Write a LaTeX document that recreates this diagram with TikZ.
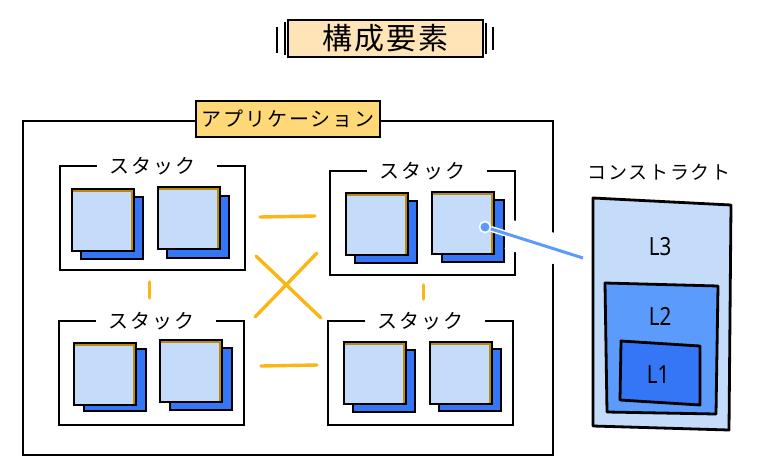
\documentclass[tikz,border=0pt]{standalone}
\usepackage{fontspec}
\newfontfamily\jpfont[LetterSpace=9]{Noto Sans CJK JP}
\newfontfamily\titlefont[LetterSpace=7]{Noto Sans CJK JP}
\newfontfamily\layerfont[FakeStretch=0.82]{Noto Sans}
\definecolor{cardlight}{HTML}{C5DBFA}
\definecolor{cardmid}{HTML}{5B9BFB}
\definecolor{carddark}{HTML}{3476F6}
\definecolor{amberline}{HTML}{B88A10}
\definecolor{linkorange}{HTML}{FBB615}
\definecolor{titlefill}{HTML}{FFE4B8}
\definecolor{appfill}{HTML}{FFD977}
\tikzset{
	sketch/.style={draw=black,line width=2.4pt,inner sep=0pt,outer sep=0pt,anchor=north west},
	stackframe/.style={sketch,minimum width=185pt,minimum height=104pt},
	stacklabel/.style={fill=white,inner sep=0pt,xshift=4pt,minimum width=120pt,minimum height=24pt,font=\jpfont\fontsize{20}{22}\selectfont},
	backcard/.style={sketch,fill=carddark,line width=2.8pt,minimum width=62pt,minimum height=62pt},
	frontcard/.style={sketch,fill=cardlight,line width=2.8pt,minimum width=62pt,minimum height=62pt,
		path picture={\draw[amberline,line width=5.4pt] (path picture bounding box.north west) -- (path picture bounding box.north east) -- (path picture bounding box.south east);}},
	layer/.style={draw=black,line width=2.8pt,line join=round},
	layertext/.style={font=\layerfont\fontsize{25}{28}\selectfont},
	link/.style={linkorange,line width=3.4pt,line cap=round},
}
\begin{document}
\begin{tikzpicture}[x=1pt,y=-1pt]
	\useasboundingbox (0,0) rectangle (758,469);
	% title
	\node[sketch,fill=titlefill,line width=2.8pt,minimum width=195pt,minimum height=37pt,font=\titlefont\fontsize{30}{32}\selectfont] (title) at (288,20) {構成要素};
	\draw[line width=1.8pt] ([shift={(-11,7)}]title.north west) -- ([shift={(-11,-4)}]title.south west);
	\draw[line width=1.8pt] ([shift={(-3,2)}]title.north west) -- ([shift={(-3,-2)}]title.south west);
	\draw[line width=1.8pt] ([shift={(3,3)}]title.north east) -- ([shift={(3,-3)}]title.south east);
	\draw[line width=1.8pt] ([shift={(10,7)}]title.north east) -- ([shift={(10,-7)}]title.south east);
	% application
	\node[sketch,minimum width=530pt,minimum height=334pt] (app) at (23,121) {};
	\node[sketch,fill=appfill,line width=2.8pt,minimum width=184pt,minimum height=36pt,font=\jpfont\fontsize{20}{22}\selectfont] (applabel) at (196,101) {アプリケーション};
	% stacks
	\node[stackframe] (stackA) at (60,166) {};
	\node[stacklabel] (labelA) at (stackA.north) {スタック\kern8pt};
	\node[stackframe] (stackB) at (330,171) {};
	\node[stacklabel] (labelB) at (stackB.north) {スタック\kern8pt};
	\node[stackframe] (stackC) at (59,321) {};
	\node[stacklabel] (labelC) at (stackC.north) {スタック\kern8pt};
	\node[stackframe] (stackD) at (328,321) {};
	\node[stacklabel] (labelD) at (stackD.north) {スタック\kern8pt};
	% cards
	\node[backcard] (backA1) at (81,197) {};
	\node[frontcard] (cardA1) at (72,189) {};
	\node[backcard] (backA2) at (167,196) {};
	\node[frontcard] (cardA2) at (158,187) {};
	\node[backcard] (backB1) at (355,201) {};
	\node[frontcard] (cardB1) at (346,193) {};
	\node[backcard] (backB2) at (442,200) {};
	\node[frontcard] (cardB2) at (432,192) {};
	\node[backcard] (backC1) at (84,349) {};
	\node[frontcard] (cardC1) at (74,343) {};
	\node[backcard] (backC2) at (170,348) {};
	\node[frontcard] (cardC2) at (160,340) {};
	\node[backcard] (backD1) at (353,350) {};
	\node[frontcard] (cardD1) at (344,342) {};
	\node[backcard] (backD2) at (439,349) {};
	\node[frontcard] (cardD2) at (430,342) {};
	% links
	\draw[link] ([shift={(15,-1)}]stackA.east) -- ([shift={(-15,-7)}]stackB.west);
	\draw[link] ([shift={(17,-7)}]stackC.east) -- ([shift={(-11,-8)}]stackD.west);
	\draw[link] ([shift={(-3,12)}]stackA.south) -- ([shift={(-2,-23)}]stackC.north);
	\draw[link] ([shift={(1,10)}]stackB.south) -- ([shift={(3,-22)}]stackD.north);
	\draw[link] ([shift={(11,-14)}]stackA.south east) -- ([shift={(-7,-3)}]stackD.north west);
	\draw[link] ([shift={(-13,-22)}]stackB.south west) -- ([shift={(11,-4)}]stackC.north east);
	% layers
	\draw[layer,fill=cardlight] (593,198) -- (731,205) -- (729,430) -- (593,426) -- cycle;
	\draw[layer,fill=cardmid] (605,283) -- (718,286) -- (716,414) -- (607,412) -- cycle;
	\draw[layer,fill=carddark] (621,341) -- (700,346) -- (700,405) -- (620,400) -- cycle;
	\node[layertext] (L3) at (660,247) {L3};
	\node[layertext] (L2) at (660,316) {L2};
	\node[layertext] (L1) at (658,375) {L1};
	\node[font=\jpfont\fontsize{19}{22}\selectfont] (construct) at (659,172) {コンストラクト};
	% connector
	\coordinate (gapstart) at (509,234.5);
	\coordinate (gapend) at (562,251);
	\coordinate (connend) at (583,258);
	\node[circle,fill=cardmid,draw=white,line width=1.6pt,minimum size=11pt,inner sep=0pt] (dot) at (485,227) {};
	\draw[white,line width=30pt] (gapstart) -- (gapend);
	\draw[white,line width=6pt] (dot) -- (connend);
	\draw[cardmid,line width=3pt] (dot) -- (connend);
\end{tikzpicture}
\end{document}
